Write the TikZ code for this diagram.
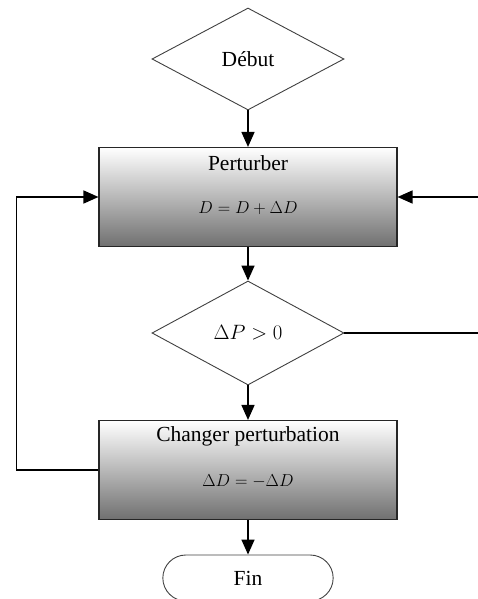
\documentclass[tikz,border=0pt]{standalone}
\usepackage{amsmath}
\usepackage{fontspec}
\setmainfont{Liberation Serif}
\usetikzlibrary{shapes.geometric,shapes.misc,arrows.meta}

\begin{document}
\begin{tikzpicture}[x=1pt,y=-1pt,
    decision/.style={diamond,draw=black!75,line width=0.9pt,inner sep=0pt,minimum width=192pt},
    process/.style={rectangle,draw=black!85,line width=1.1pt,top color=white,bottom color=black!56,minimum width=298pt,minimum height=99pt},
    terminal/.style={rounded rectangle,draw=black!75,line width=0.9pt,minimum width=177pt,minimum height=46pt},
    txt/.style={font=\fontsize{21.5}{25}\selectfont},
    eq/.style={font=\fontsize{17.5}{20}\selectfont},
    fleche/.style={-{Triangle[width=13pt,length=15pt]},line width=1.5pt},
    ligne/.style={line width=1.5pt}]
    \useasboundingbox (0,0) rectangle (478,599);
    % formes
    \node[decision,minimum height=102pt,txt] (debut) at (248,59) {Début};
    \node[process] (perturber) at (248,197) {};
    \node[txt] (perturberTitre) at (248,163) {Perturber};
    \node[eq] (perturberEq) at (248,208) {$D = D + \Delta D$};
    \node[decision,minimum height=104pt,font=\fontsize{20.5}{24}\selectfont] (test) at (248,333) {$\Delta P > 0$};
    \node[process] (changer) at (248,470) {};
    \node[txt] (changerTitre) at (248,436) {Changer perturbation};
    \node[eq] (changerEq) at (248,481) {$\Delta D = -\Delta D$};
    \node[terminal,txt] (fin) at (248,578) {Fin};
    \coordinate (droiteHaut) at (478,197);
    \coordinate (droiteBas) at (478,333);
    % liaisons
    \draw[fleche] (debut.south) -- (perturber.north);
    \draw[fleche] (perturber.south) -- (test.north);
    \draw[fleche] (test.south) -- (changer.north);
    \draw[fleche] (changer.south) -- (fin.north);
    \draw[fleche] (droiteHaut) -- (perturber.east);
    \draw[ligne] (test.east) -- (droiteBas);
    \draw[fleche] (changer.west) -- ++(-82,0) |- (perturber.west);
\end{tikzpicture}
\end{document}
